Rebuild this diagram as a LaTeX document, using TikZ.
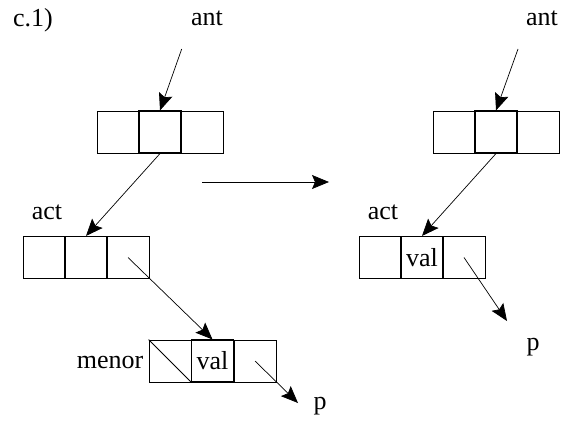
\documentclass[tikz,border=0pt]{standalone}
\usepackage{fontspec}
\setmainfont{Liberation Serif}
\usetikzlibrary{arrows.meta}
\begin{document}
\begin{tikzpicture}[x=1pt,y=-1pt,
  cell/.style={draw,line width=0.8pt,minimum width=42pt,minimum height=42pt,inner sep=0pt,font=\fontsize{26}{28}\selectfont},
  midcell/.style={cell,line width=1.1pt},
  lbl/.style={inner sep=0pt,font=\fontsize{26}{28}\selectfont},
  ptr/.style={line width=0.7pt,-{Stealth[length=17pt,width=14pt,inset=3pt]}}]
\useasboundingbox (0,0) rectangle (565,423);
% left top box
\node[cell] (t1) at (118,132) {};
\node[cell] (t3) at (202,132) {};
\node[midcell] (t2) at (160,132) {};
% left act box
\node[cell] (a1) at (44,257.5) {};
\node[cell] (a3) at (128,257.5) {};
\node[midcell] (a2) at (86,257.5) {};
% menor box
\node[cell] (m1) at (170,361) {};
\node[cell] (m3) at (255,361) {};
\node[midcell] (m2) at (212.5,361) {val};
\draw[line width=0.8pt] (m1.north west) -- (m1.south east);
% right top box
\node[cell] (r1) at (454,132) {};
\node[cell] (r3) at (538,132) {};
\node[midcell] (r2) at (496,132) {};
% right act box
\node[cell] (s1) at (380,257.5) {};
\node[cell] (s3) at (464,257.5) {};
\node[midcell] (s2) at (422,257.5) {val};
% labels
\node[lbl] (c1) at (33,20) {c.1)};
\node[lbl] (antL) at (207,18) {ant};
\node[lbl] (actL) at (47,212) {act};
\node[lbl] (menor) at (110,362) {menor};
\node[lbl] (pL) at (320,406) {p};
\node[lbl] (antR) at (542,18) {ant};
\node[lbl] (actR) at (383,212) {act};
\node[lbl] (pR) at (533,347) {p};
% free ends
\coordinate (antLs) at (181.7,49);
\coordinate (antRs) at (518,49);
\coordinate (pLe) at (298,403);
\coordinate (pRe) at (507,321);
\coordinate (hs) at (202,182);
\coordinate (he) at (329,182);
% connectors
\draw[ptr] (antLs) -- (t2.north);
\draw[ptr] (t2.south) -- (a2.north);
\draw[ptr] (a3.center) -- (m2.north);
\draw[ptr] (m3.center) -- (pLe);
\draw[ptr] (hs) -- (he);
\draw[ptr] (antRs) -- (r2.north);
\draw[ptr] (r2.south) -- (s2.north);
\draw[ptr] (s3.center) -- (pRe);
\end{tikzpicture}
\end{document}
